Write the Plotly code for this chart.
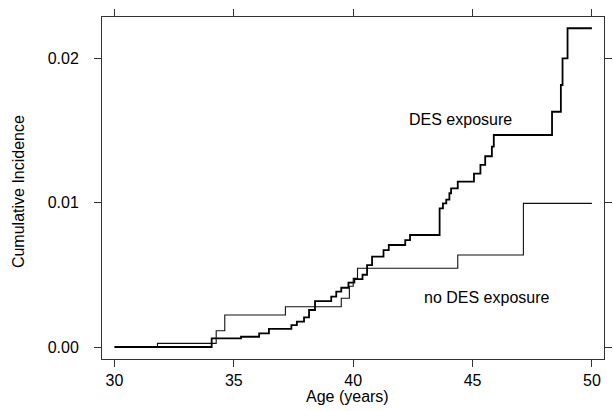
import plotly.graph_objects as go

# Step-function data (age in years, cumulative incidence)
no_des_age = [30, 31.8, 34.26, 34.62, 37.16, 39.5, 39.84, 40.0, 40.18, 44.38, 47.13, 50]
no_des_inc = [0, 0.00025, 0.00113, 0.00221, 0.00279, 0.00337, 0.0042, 0.00475, 0.00545,
              0.00637, 0.00994, 0.00994]

des_age = [30, 34.07, 35.3, 36.06, 36.47, 37.41, 37.64, 37.94, 38.15, 38.4, 39.08, 39.29,
           39.5, 39.8, 40.05, 40.39, 40.58, 40.79, 41.27, 41.49, 42.18, 42.38, 43.62, 43.76,
           43.9, 44.03, 44.1, 44.38, 45.06, 45.33, 45.53, 45.81, 45.89, 48.33, 48.7, 48.77,
           48.98, 50]
des_inc = [0, 0.0006, 0.00071, 0.00095, 0.00125, 0.00152, 0.00175, 0.00205, 0.00256,
           0.00318, 0.00348, 0.00383, 0.0041, 0.00445, 0.0047, 0.005, 0.00567, 0.00625,
           0.00671, 0.00706, 0.0074, 0.00775, 0.0096, 0.00994, 0.0102, 0.01064, 0.01098,
           0.01144, 0.0120, 0.0126, 0.0132, 0.01386, 0.01467, 0.01628, 0.01813, 0.01998,
           0.02206, 0.02206]

x_ticks = [30, 35, 40, 45, 50]
y_ticks = [0.0, 0.01, 0.02]
y_tick_labels = ["0.00", "0.01", "0.02"]

FONT = "Liberation Sans, Arial, Helvetica, sans-serif"

fig = go.Figure()
fig.add_trace(go.Scatter(x=no_des_age, y=no_des_inc, mode="lines", line_shape="hv",
                         line=dict(color="#111111", width=1.1), name="no DES exposure",
                         hoverinfo="skip"))
fig.add_trace(go.Scatter(x=des_age, y=des_inc, mode="lines", line_shape="hv",
                         line=dict(color="#000000", width=1.8), name="DES exposure",
                         hoverinfo="skip"))

fig.add_annotation(x=44.49, y=0.01571, text="DES exposure", showarrow=False,
                   font=dict(size=16, color="black", family=FONT), xanchor="center", yanchor="middle")
fig.add_annotation(x=45.59, y=0.00346, text="no DES exposure", showarrow=False,
                   font=dict(size=16, color="black", family=FONT), xanchor="center", yanchor="middle")

fig.add_annotation(xref="paper", yref="paper", x=-0.166, y=0.49, text="Cumulative Incidence",
                   textangle=-90, showarrow=False, xanchor="center", yanchor="middle",
                   font=dict(size=16, color="black", family=FONT))
fig.add_annotation(xref="paper", yref="paper", x=0.489, y=-0.11, text="Age (years)",
                   showarrow=False, xanchor="center", yanchor="middle",
                   font=dict(size=16, color="black", family=FONT))

fig.update_layout(
    width=613, height=411,
    margin=dict(l=102, r=1, t=17, b=52),
    paper_bgcolor="white", plot_bgcolor="white",
    showlegend=False,
    hovermode=False,
    font=dict(family=FONT, size=16, color="black"),
    xaxis=dict(range=[29.476, 50.507], tickvals=x_ticks, ticks="outside", ticklen=7,
               tickcolor="#333333", showline=True, linecolor="#333333", linewidth=1,
               mirror="ticks", showgrid=False, zeroline=False,
               tickfont=dict(size=16, family=FONT, color="black")),
    yaxis=dict(range=[-0.00083, 0.022837], tickvals=y_ticks, ticktext=y_tick_labels,
               ticks="outside", ticklen=7, tickcolor="#333333", showline=True,
               linecolor="#333333", linewidth=1, mirror="ticks", showgrid=False,
               zeroline=False, ticklabelstandoff=12,
               tickfont=dict(size=16, family=FONT, color="black")),
)

fig.write_html("out.html",
               config={"displayModeBar": False, "staticPlot": True},
               post_script="document.body.style.margin='0';document.body.style.overflow='hidden';")
